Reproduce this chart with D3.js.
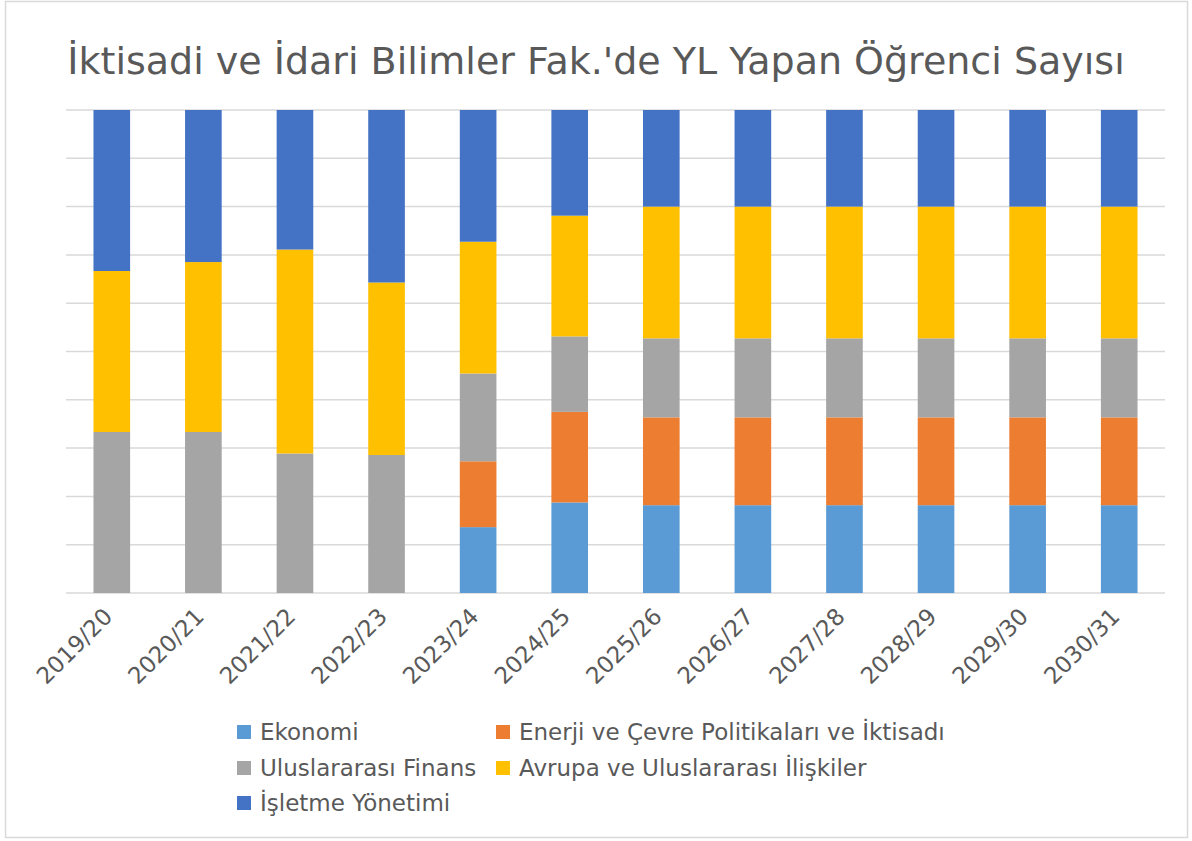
<!DOCTYPE html>
<html>
<head>
<meta charset="utf-8">
<script src="https://cdn.jsdelivr.net/npm/d3@7"></script>
<style>
  body { margin: 0; background: #fff; }
  text { font-family: "DejaVu Sans", sans-serif; fill: #595959; }
</style>
</head>
<body>
<div id="chart"></div>
<script>
// academic years
const years = ["2019/20", "2020/21", "2021/22", "2022/23", "2023/24", "2024/25",
  "2025/26", "2026/27", "2027/28", "2028/29", "2029/30", "2030/31"];

// series (student counts estimated from the 100% stacked bars)
const seriesNames = ["Ekonomi", "Enerji ve Çevre Politikaları ve İktisadı",
  "Uluslararası Finans", "Avrupa ve Uluslararası İlişkiler", "İşletme Yönetimi"];
const ekonomi = [0, 0, 0, 0, 3, 6, 10, 10, 10, 10, 10, 10];
const enerji = [0, 0, 0, 0, 3, 6, 10, 10, 10, 10, 10, 10];
const finans = [10, 18, 13, 12, 4, 5, 9, 9, 9, 9, 9, 9];
const avrupa = [10, 19, 19, 15, 6, 8, 15, 15, 15, 15, 15, 15];
const isletme = [10, 17, 13, 15, 6, 7, 11, 11, 11, 11, 11, 11];
const colors = ["#5b9bd5", "#ed7d31", "#a5a5a5", "#ffc000", "#4472c4"];

const W = 1192, H = 841;
const margin = { top: 110, right: 27, bottom: 248, left: 66 };

const svg = d3.select("#chart").append("svg")
  .attr("width", W).attr("height", H);

// chart border
svg.append("rect")
  .attr("x", 5.5).attr("y", 1.5).attr("width", 1182).attr("height", 836)
  .attr("fill", "#fff").attr("stroke", "#d9d9d9").attr("stroke-width", 1.5);

// title
svg.append("text")
  .attr("x", W / 2).attr("y", 74)
  .attr("text-anchor", "middle")
  .style("font-size", "38px")
  .text("İktisadi ve İdari Bilimler Fak.'de YL Yapan Öğrenci Sayısı");

// build table
const table = years.map((y, i) => {
  const vals = [ekonomi[i], enerji[i], finans[i], avrupa[i], isletme[i]];
  const total = d3.sum(vals);
  const row = { year: y };
  seriesNames.forEach((s, k) => row[s] = vals[k] / total);
  return row;
});

const stack = d3.stack().keys(seriesNames)(table);

const x = d3.scaleBand().domain(years)
  .range([margin.left, W - margin.right]).paddingInner(0.6).paddingOuter(0.3);
const y = d3.scaleLinear().domain([0, 1]).range([H - margin.bottom, margin.top]);

// gridlines
svg.append("g")
  .selectAll("line")
  .data(y.ticks(10))
  .join("line")
  .attr("x1", margin.left).attr("x2", W - margin.right)
  .attr("y1", d => y(d)).attr("y2", d => y(d))
  .attr("stroke", "#d9d9d9").attr("stroke-width", 1.5);

// bars
svg.append("g")
  .selectAll("g")
  .data(stack)
  .join("g")
  .attr("fill", (d, i) => colors[i])
  .selectAll("rect")
  .data(d => d)
  .join("rect")
  .attr("x", d => x(d.data.year))
  .attr("width", x.bandwidth())
  .attr("y", d => y(d[1]))
  .attr("height", d => y(d[0]) - y(d[1]));

// x axis
const xAxis = svg.append("g")
  .attr("transform", "translate(0," + (H - margin.bottom) + ")")
  .call(d3.axisBottom(x).tickSize(0).tickPadding(0));
xAxis.select(".domain").remove();
xAxis.selectAll("text")
  .style("font-size", "23px")
  .style("font-family", "DejaVu Sans, sans-serif")
  .attr("fill", "#595959")
  .attr("text-anchor", "end")
  .attr("dy", "0")
  .attr("transform", "translate(2,25) rotate(-45)");

// legend
const legendPos = [[237, 732], [496, 732], [237, 768], [496, 768], [237, 803]];
const legend = svg.append("g")
  .selectAll("g")
  .data(seriesNames)
  .join("g")
  .attr("transform", (d, i) => "translate(" + legendPos[i][0] + "," + legendPos[i][1] + ")");
legend.append("rect")
  .attr("x", 0).attr("y", -7).attr("width", 14).attr("height", 14)
  .attr("fill", (d, i) => colors[i]);
legend.append("text")
  .attr("x", 23).attr("y", 0).attr("dy", "0.35em")
  .style("font-size", "23px")
  .text(d => d);
</script>
</body>
</html>
